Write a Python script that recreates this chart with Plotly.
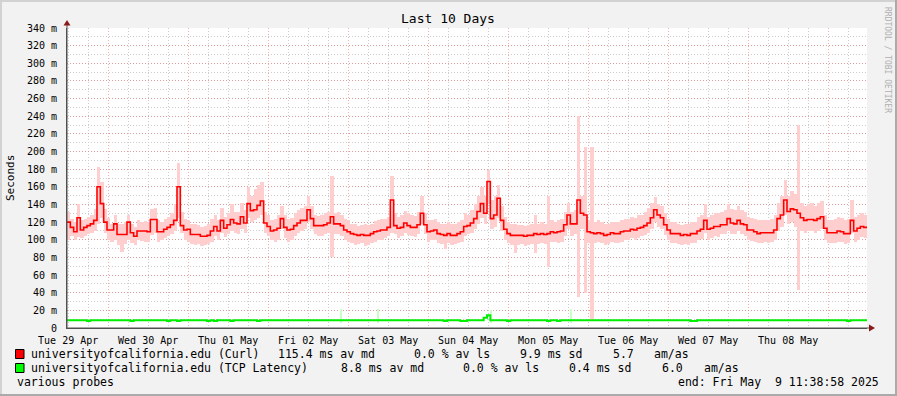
import pandas as pd
import plotly.graph_objects as go

# ---------------- data (hourly, ms) ----------------
START = "2025-04-29 11:38:58"
END = "2025-05-09 11:38:58"

curl_median = [
    120, 114, 109, 125, 111, 114, 116, 118, 122, 160, 141, 120, 111, 111, 118, 106, 106, 106, 120, 108, 104, 110, 110, 110,
    109, 123, 123, 109, 109, 112, 114, 117, 122, 160, 116, 111, 112, 106, 106, 106, 104, 104, 105, 110, 115, 110, 122, 113,
    117, 123, 119, 118, 126, 119, 141, 133, 134, 139, 144, 119, 115, 110, 111, 113, 124, 114, 111, 112, 116, 119, 122, 122,
    134, 124, 116, 116, 116, 117, 119, 126, 118, 118, 116, 111, 109, 107, 106, 105, 106, 105, 105, 107, 109, 110, 111, 111,
    114, 145, 116, 113, 114, 119, 116, 114, 114, 117, 130, 117, 109, 110, 111, 107, 106, 105, 107, 105, 105, 107, 109, 115,
    116, 119, 124, 132, 141, 130, 166, 124, 128, 147, 122, 112, 107, 105, 105, 105, 105, 104, 105, 105, 107, 106, 107, 106,
    107, 109, 108, 109, 110, 117, 128, 118, 118, 145, 130, 128, 109, 108, 107, 108, 107, 105, 106, 108, 107, 107, 109, 110,
    110, 112, 111, 113, 114, 116, 119, 125, 134, 128, 125, 117, 111, 107, 107, 107, 105, 106, 105, 107, 107, 110, 112, 122,
    112, 113, 115, 115, 117, 117, 124, 119, 118, 122, 118, 117, 111, 111, 109, 107, 108, 108, 108, 108, 111, 124, 128, 145,
    132, 135, 134, 130, 125, 122, 123, 123, 122, 124, 126, 113, 108, 108, 108, 110, 109, 107, 107, 122, 110, 113, 115, 114,
]

curl_smoke_lo = [
    100, 104, 100, 103, 102, 104, 106, 108, 110, 118, 125, 108, 100, 98, 100, 94, 86, 95, 100, 96, 94, 100, 99, 98,
    98, 105, 108, 98, 100, 102, 104, 106, 110, 125, 108, 100, 98, 95, 94, 95, 93, 94, 95, 98, 104, 100, 108, 103,
    106, 110, 108, 106, 112, 108, 125, 120, 122, 125, 128, 108, 104, 100, 98, 100, 112, 102, 98, 100, 104, 108, 110, 112,
    120, 112, 106, 104, 104, 106, 108, 80, 106, 106, 104, 100, 98, 96, 94, 95, 96, 93, 94, 96, 98, 100, 100, 102,
    104, 108, 106, 102, 104, 108, 105, 104, 103, 106, 118, 106, 98, 100, 100, 96, 95, 89, 96, 94, 95, 96, 98, 104,
    106, 108, 112, 118, 125, 118, 140, 112, 115, 125, 110, 100, 96, 94, 85, 94, 95, 93, 94, 95, 85, 95, 96, 95,
    69, 98, 98, 96, 98, 104, 112, 104, 106, 35, 112, 40, 96, 10, 96, 98, 96, 94, 95, 97, 96, 96, 98, 100,
    100, 102, 100, 102, 104, 105, 108, 112, 120, 115, 112, 105, 100, 96, 96, 95, 94, 95, 94, 96, 96, 100, 101, 108,
    100, 102, 104, 103, 106, 106, 110, 106, 106, 110, 106, 104, 100, 99, 98, 96, 96, 97, 96, 97, 100, 110, 114, 128,
    118, 120, 115, 43, 110, 108, 110, 110, 108, 110, 112, 100, 96, 96, 96, 98, 97, 95, 96, 108, 98, 100, 103, 102,
]

curl_smoke_hi = [
    132, 124, 120, 140, 122, 124, 126, 128, 135, 183, 165, 135, 125, 118, 128, 118, 118, 120, 128, 118, 115, 122, 120, 121,
    120, 135, 136, 122, 120, 124, 126, 130, 140, 187, 132, 124, 122, 118, 118, 117, 115, 116, 118, 124, 128, 122, 136, 126,
    130, 140, 132, 132, 142, 134, 160, 150, 158, 162, 166, 132, 128, 122, 124, 128, 138, 128, 124, 125, 130, 134, 136, 138,
    150, 138, 128, 127, 128, 130, 132, 172, 130, 132, 128, 124, 122, 118, 118, 116, 117, 118, 117, 118, 121, 122, 124, 124,
    126, 172, 130, 126, 128, 133, 130, 128, 127, 132, 150, 130, 122, 122, 124, 120, 118, 118, 120, 118, 118, 120, 122, 130,
    128, 134, 140, 150, 160, 150, 179, 145, 150, 162, 138, 126, 120, 118, 118, 117, 117, 116, 117, 118, 128, 118, 120, 118,
    150, 122, 120, 122, 124, 132, 142, 132, 134, 240, 150, 205, 122, 205, 120, 122, 120, 118, 118, 120, 120, 120, 122, 124,
    124, 126, 125, 128, 128, 132, 136, 142, 148, 140, 138, 130, 124, 120, 120, 118, 117, 118, 118, 120, 120, 126, 128, 140,
    126, 128, 130, 130, 132, 134, 140, 135, 134, 138, 134, 132, 126, 125, 124, 122, 122, 122, 122, 123, 128, 142, 150, 168,
    150, 155, 152, 230, 142, 138, 140, 142, 138, 142, 144, 128, 122, 122, 123, 126, 125, 122, 123, 145, 126, 128, 130, 128,
]

tcp_median = [
    8.8, 8.8, 8.8, 8.8, 8.8, 8.8, 7.8, 8.8, 8.8, 8.8, 8.8, 8.8, 8.8, 8.8, 8.8, 8.8, 8.8, 8.8, 8.8, 7.8, 8.8, 8.8, 8.8, 8.8,
    8.8, 8.8, 8.8, 8.8, 8.8, 8.8, 7.8, 8.8, 8.8, 7.8, 8.8, 8.8, 8.8, 8.8, 8.8, 8.8, 8.8, 8.8, 7.8, 8.8, 7.8, 8.8, 8.8, 8.8,
    8.8, 7.8, 8.8, 8.8, 8.8, 8.8, 8.8, 8.8, 8.8, 7.8, 8.8, 8.8, 8.8, 8.8, 8.8, 8.8, 8.8, 8.8, 8.8, 8.8, 8.8, 8.8, 8.8, 8.8,
    8.8, 8.8, 8.8, 8.8, 8.8, 8.8, 8.8, 8.8, 8.8, 8.8, 8.8, 8.8, 8.8, 8.8, 8.8, 8.8, 8.8, 8.8, 8.8, 8.8, 8.8, 8.8, 8.8, 8.8,
    8.8, 8.8, 8.8, 8.8, 8.8, 8.8, 8.8, 8.8, 8.8, 8.8, 8.8, 8.8, 8.8, 8.8, 8.8, 8.8, 8.8, 7.8, 8.8, 8.8, 8.8, 8.8, 7.8, 7.8,
    8.8, 8.8, 8.8, 8.8, 8.8, 11.5, 14.5, 8.8, 8.8, 8.8, 8.8, 8.8, 7.8, 8.8, 8.8, 8.8, 8.8, 8.8, 8.8, 8.8, 8.8, 8.8, 8.8, 8.8,
    7.8, 8.8, 8.8, 7.8, 8.8, 8.8, 8.8, 8.8, 8.8, 8.8, 8.8, 8.8, 8.8, 8.8, 8.8, 8.8, 8.8, 8.8, 8.8, 8.8, 8.8, 8.8, 8.8, 8.8,
    8.8, 8.8, 8.8, 8.8, 8.8, 8.8, 8.8, 8.8, 8.8, 8.8, 8.8, 8.8, 8.8, 8.8, 8.8, 8.8, 8.8, 8.8, 8.8, 7.8, 7.8, 8.8, 8.8, 8.8,
    8.8, 8.8, 8.8, 8.8, 8.8, 8.8, 8.8, 8.8, 8.8, 8.8, 8.8, 8.8, 8.8, 8.8, 8.8, 8.8, 8.8, 8.8, 8.8, 8.8, 8.8, 8.8, 8.8, 8.8,
    8.8, 8.8, 8.8, 8.8, 8.8, 8.8, 8.8, 8.8, 8.8, 8.8, 8.8, 8.8, 8.8, 8.8, 8.8, 8.8, 8.8, 8.8, 7.8, 8.8, 8.8, 8.8, 8.8, 8.8,
]

tcp_smoke_hours = [82, 93, 127, 151]
tcp_smoke_lo = [6, 6, 6, 6]
tcp_smoke_hi = [22, 22, 20, 22]

y_tick_values = list(range(0, 341, 20))
y_tick_labels = ["0"] + [f"{v} m" for v in y_tick_values[1:]]

legend_rows = [
    ["universityofcalifornia.edu (Curl)", "115.4 ms av md", "0.0 % av ls", "9.9 ms sd", "5.7", "am/as"],
    ["universityofcalifornia.edu (TCP Latency)", "8.8 ms av md", "0.0 % av ls", "0.4 ms sd", "6.0", "am/as"],
]
legend_colors = ["#FF0000", "#00FF00"]
footer_left = "various probes"
footer_right = "end: Fri May  9 11:38:58 2025"
title_text = "Last 10 Days"
y_title = "Seconds"
credit = "RRDTOOL / TOBI OETIKER"

# ---------------- geometry helpers ----------------
W, H = 897, 396
L, R, T, B = 67, 867, 28, 328
MONO = "DejaVu Sans Mono"


def pxx(x):
    return (x - L) / (R - L)


def pxy(y):
    return (B - y) / (B - T)


times = pd.date_range(START, periods=len(curl_median), freq="h")
t_end = pd.Timestamp(END)
HOUR_MS = 3600 * 1000

fig = go.Figure()

# curl smoke
fig.add_trace(go.Bar(
    x=times, base=curl_smoke_lo,
    y=[h - l for h, l in zip(curl_smoke_hi, curl_smoke_lo)],
    width=HOUR_MS, offset=0,
    marker=dict(color="#FFCFCF", line=dict(width=0)),
    hoverinfo="skip", showlegend=False,
))
# tcp smoke
fig.add_trace(go.Bar(
    x=[times[h] for h in tcp_smoke_hours], base=tcp_smoke_lo,
    y=[h - l for h, l in zip(tcp_smoke_hi, tcp_smoke_lo)],
    width=HOUR_MS * 0.6, offset=0,
    marker=dict(color="#C8FFC8", line=dict(width=0)),
    hoverinfo="skip", showlegend=False,
))
# curl median
fig.add_trace(go.Scatter(
    x=list(times) + [t_end], y=curl_median + [curl_median[-1]],
    mode="lines", line=dict(color="#FF0000", width=1.6, shape="hv"),
    showlegend=False,
))
# tcp median
fig.add_trace(go.Scatter(
    x=list(times) + [t_end], y=tcp_median + [tcp_median[-1]],
    mode="lines", line=dict(color="#00EE00", width=2, shape="hv"),
    showlegend=False,
))

GRID_MAJOR = "rgba(235,120,120,0.6)"
GRID_MINOR = "#CCCCCC"

fig.update_layout(
    width=W, height=H, autosize=False,
    margin=dict(l=L, r=W - R, t=T, b=H - B, pad=0),
    paper_bgcolor="#F2F2F2", plot_bgcolor="#FFFFFF",
    barmode="overlay", bargap=0,
    font=dict(family=MONO, size=10, color="#000000"),
    showlegend=False,
    xaxis=dict(
        type="date", range=[pd.Timestamp(START), t_end],
        tick0="2025-04-29 00:00:00", dtick=86400000,
        tickformat="%a %d %b", ticklabelmode="period",
        showgrid=True, gridcolor=GRID_MAJOR, griddash="1px,2px", gridwidth=1,
        minor=dict(dtick=6 * HOUR_MS, tick0="2025-04-29 00:00:00", showgrid=True,
                   gridcolor=GRID_MINOR, griddash="1px,2px", gridwidth=1, ticks=""),
        ticks="", ticklabelstandoff=3,
        showline=True, linecolor="#505050", linewidth=1,
        zeroline=False, fixedrange=True,
        tickfont=dict(family=MONO, size=10, color="#000000"),
    ),
    yaxis=dict(
        range=[0, 340], tickmode="array", tickvals=y_tick_values, ticktext=y_tick_labels,
        showgrid=True, gridcolor=GRID_MAJOR, griddash="1px,2px", gridwidth=1,
        minor=dict(dtick=10, tick0=0, showgrid=True, gridcolor=GRID_MINOR,
                   griddash="1px,2px", gridwidth=1, ticks=""),
        ticks="", ticklabelstandoff=7,
        showline=True, linecolor="#505050", linewidth=1,
        zeroline=False, fixedrange=True,
        tickfont=dict(family=MONO, size=10, color="#000000"),
    ),
)

shapes = []
# axis extensions and arrows
shapes.append(dict(type="line", xref="paper", yref="paper", x0=pxx(67), x1=pxx(67),
                   y0=pxy(328), y1=pxy(24), line=dict(color="#505050", width=1)))
shapes.append(dict(type="line", xref="paper", yref="paper", x0=pxx(67), x1=pxx(870),
                   y0=pxy(328), y1=pxy(328), line=dict(color="#505050", width=1)))
shapes.append(dict(type="path", xref="paper", yref="paper",
                   path=f"M {pxx(63.5)},{pxy(25.5)} L {pxx(70.5)},{pxy(25.5)} L {pxx(67)},{pxy(20)} Z",
                   fillcolor="#8B1A1A", line=dict(width=0)))
shapes.append(dict(type="path", xref="paper", yref="paper",
                   path=f"M {pxx(869)},{pxy(324.5)} L {pxx(869)},{pxy(331.5)} L {pxx(875)},{pxy(328)} Z",
                   fillcolor="#8B1A1A", line=dict(width=0)))
# legend boxes
for i, col in enumerate(legend_colors):
    y0 = 349.5 + 14 * i
    shapes.append(dict(type="rect", xref="paper", yref="paper",
                       x0=pxx(15.5), x1=pxx(24), y0=pxy(y0), y1=pxy(y0 + 9),
                       fillcolor=col, line=dict(color="#000000", width=1)))
# image border
shapes.append(dict(type="rect", xref="paper", yref="paper", x0=pxx(0), x1=pxx(W), y0=pxy(0), y1=pxy(2),
                   fillcolor="#D2D2D2", line=dict(width=0)))
shapes.append(dict(type="rect", xref="paper", yref="paper", x0=pxx(0), x1=pxx(2), y0=pxy(0), y1=pxy(H),
                   fillcolor="#D2D2D2", line=dict(width=0)))
shapes.append(dict(type="rect", xref="paper", yref="paper", x0=pxx(W - 2), x1=pxx(W), y0=pxy(0), y1=pxy(H),
                   fillcolor="#AAAAAA", line=dict(width=0)))
shapes.append(dict(type="rect", xref="paper", yref="paper", x0=pxx(0), x1=pxx(W), y0=pxy(H - 2), y1=pxy(H),
                   fillcolor="#AAAAAA", line=dict(width=0)))
fig.update_layout(shapes=shapes)

ann = []


def text(x, y, s, size=11.5, anchor="left", color="#000000", angle=0):
    ann.append(dict(x=pxx(x), y=pxy(y), xref="paper", yref="paper", text=s, showarrow=False,
                    xanchor=anchor, yanchor="middle", textangle=angle, borderpad=0,
                    font=dict(family=MONO, size=size, color=color)))


text(448, 19, title_text, size=13, anchor="center")
text(10, 178, y_title, size=11, anchor="center", angle=-90)
text(888, 60, credit, size=8, anchor="center", color="#B0B0B0", angle=90)

col_x = [
    [30, 277, 412.7, 519.3, 611.7, 653.3],
    [30, 340, 461.7, 568.3, 661, 702.7],
]
for r, row in enumerate(legend_rows):
    for c, s in enumerate(row):
        text(col_x[r][c], 354 + 14 * r, s)
text(16, 382, footer_left)
text(880, 382, footer_right, anchor="right")

fig.update_layout(annotations=ann)

fig.write_html(
    "out.html",
    config={"displayModeBar": False, "staticPlot": True},
    post_script="document.body.style.margin='0px';document.body.style.overflow='hidden';",
)
